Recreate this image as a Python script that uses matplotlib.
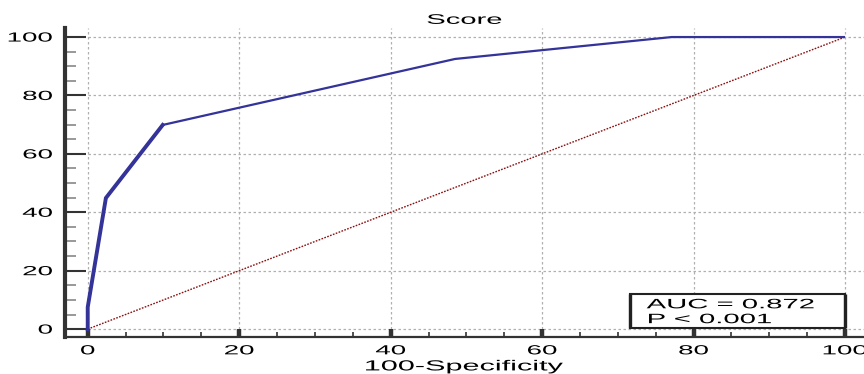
import matplotlib
matplotlib.use("Agg")
import matplotlib.pyplot as plt
from matplotlib.ticker import MultipleLocator
from matplotlib.patheffects import AbstractPathEffect
from matplotlib.transforms import Affine2D
from matplotlib.patches import Rectangle

plt.rcParams['font.family'] = ['Liberation Sans', 'DejaVu Sans']

# ROC data (100-Specificity, Sensitivity)
fpr = [0, 0, 2.4, 9.9, 48.5, 77.1, 100]
tpr = [0, 7.5, 44.9, 69.9, 92.5, 100, 100]
ref_x = [0, 100]
ref_y = [0, 100]
major_ticks = [0, 20, 40, 60, 80, 100]
title = "Score"
xlabel = "100-Specificity"
annotation = "AUC = 0.872\nP < 0.001"


class HStretch(AbstractPathEffect):
    """Stretch glyphs horizontally (reference text is drawn wide)."""
    def __init__(self, sx=2.1, anchor="center"):
        super().__init__()
        self.sx = sx
        self.anchor = anchor

    def draw_path(self, renderer, gc, tpath, affine, rgbFace=None):
        ext = tpath.get_extents()
        if self.anchor == "left":
            cx = 0.0
        elif self.anchor == "right":
            cx = ext.x1
        else:
            cx = 0.5 * (ext.x0 + ext.x1)
        t = Affine2D().translate(-cx, 0).scale(self.sx, 1).translate(cx, 0) + affine
        renderer.draw_path(gc, tpath, t, rgbFace)


SX = 2.1
W, H = 864, 374
fig = plt.figure(figsize=(W / 100, H / 100), dpi=100)
ax = fig.add_axes([65 / W, 37 / H, (W - 65) / W, (337 - 28) / H])

xmin, xmax = -3.0, 102.5
ymin, ymax = -2.7, 103.1
ax.set_xlim(xmin, xmax)
ax.set_ylim(ymin, ymax)

# grid restricted to the data region
grid_kw = dict(color="#b0b0b0", linestyle=(0, (2, 2)), linewidth=0.9, zorder=0)
ax.hlines(major_ticks, 0, xmax, **grid_kw)
ax.vlines(major_ticks, 0, ymax, **grid_kw)

# diagonal reference
ax.plot(ref_x, ref_y, color="#8b1010", linestyle=(0, (1.2, 1.0)), linewidth=1.0, zorder=2)

# ROC curve: thicker at steep start
ax.plot(fpr, tpr, color="#333399", linewidth=1.6, zorder=3, solid_capstyle="butt")
ax.plot(fpr[:4], tpr[:4], color="#333399", linewidth=2.8, zorder=3, solid_joinstyle="miter")

# spines
for s in ["top", "right"]:
    ax.spines[s].set_visible(False)
ax.spines["left"].set_linewidth(3.0)
ax.spines["left"].set_color("#333333")
ax.spines["bottom"].set_linewidth(1.6)
ax.spines["bottom"].set_color("#333333")

ax.set_xticks(major_ticks)
ax.set_yticks(major_ticks)
ax.xaxis.set_minor_locator(MultipleLocator(5))
ax.yaxis.set_minor_locator(MultipleLocator(5))

ax.tick_params(axis="y", which="major", direction="in", length=15, width=1.5,
               color="#333333", labelsize=9.5, pad=9)
ax.tick_params(axis="y", which="minor", direction="in", length=8, width=1.2,
               color="#888888")
ax.tick_params(axis="x", which="major", direction="in", length=6, width=3.2,
               color="#333333", labelsize=9.5, pad=6)
ax.tick_params(axis="x", which="minor", direction="in", length=3.5, width=1.2,
               color="#333333")

for lbl in ax.get_xticklabels():
    lbl.set_path_effects([HStretch(SX, "center")])
for lbl in ax.get_yticklabels():
    lbl.set_path_effects([HStretch(SX, "right")])

t = ax.set_title(title, fontsize=10, pad=3)
t.set_path_effects([HStretch(SX, "center")])
xl = ax.set_xlabel(xlabel, fontsize=10.5, labelpad=1.5)
xl.set_path_effects([HStretch(SX, "center")])

# annotation box
ax.add_patch(Rectangle((71.6, 0.3), 28.4, 11.7, facecolor="white",
                       edgecolor="#222222", linewidth=1.5, zorder=5))
ax.vlines([71.6, 100], 0.3, 12.0, color="#222222", linewidth=2.4, zorder=6)
at = ax.text(73.8, 10.9, annotation, fontsize=9.8, va="top", ha="left",
             linespacing=1.08, zorder=7)
at.set_path_effects([HStretch(2.15, "left")])

fig.savefig("out.png", dpi=100)
